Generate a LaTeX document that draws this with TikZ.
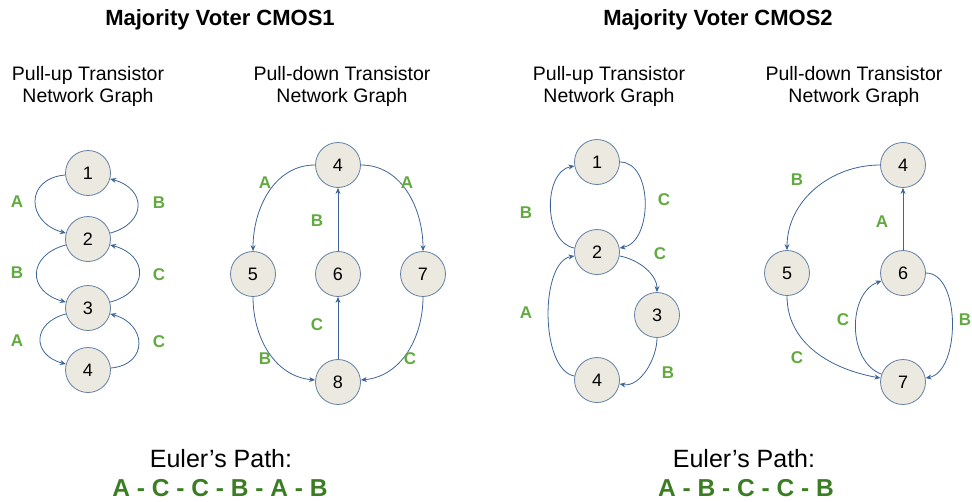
\documentclass[tikz,border=0pt]{standalone}
\usepackage{fontspec}
\setmainfont{Liberation Sans}
\usetikzlibrary{arrows.meta}
\definecolor{nodefill}{RGB}{236,234,224}
\definecolor{nodeborder}{RGB}{98,128,165}
\definecolor{edgeblue}{RGB}{62,100,150}
\definecolor{labgreen}{RGB}{98,170,64}
\definecolor{pathgreen}{RGB}{58,125,34}
\tikzset{
  vert/.style={circle, draw=nodeborder, fill=nodefill, line width=0.8pt,
    minimum size=45pt, inner sep=0pt, font=\fontsize{18}{18}\selectfont},
  conn/.style={draw=edgeblue, line width=0.8pt, -{Stealth[length=6pt,width=5pt]}},
  lab/.style={text=labgreen, font=\bfseries\fontsize{17}{17}\selectfont},
  title/.style={font=\bfseries\fontsize{22}{22}\selectfont},
  sub/.style={align=center, font=\fontsize{19.5}{22}\selectfont},
  euler/.style={anchor=base, inner sep=0pt, font=\fontsize{25}{25}\selectfont},
  eulerpath/.style={anchor=base, inner sep=0pt, text=pathgreen, font=\bfseries\fontsize{24.5}{24.5}\selectfont}
}
\begin{document}
\begin{tikzpicture}[x=1pt,y=1pt]
\useasboundingbox (0,0) rectangle (972,-501);
% titles
\node[title] (t1) at (220,-20) {Majority Voter CMOS1};
\node[title] (t2) at (718,-20) {Majority Voter CMOS2};
\node[sub] (s1) at (88,-86) {Pull-up Transistor\\Network Graph};
\node[sub] (s2) at (342,-86) {Pull-down Transistor\\Network Graph};
\node[sub] (s3) at (609,-86) {Pull-up Transistor\\Network Graph};
\node[sub] (s4) at (854,-86) {Pull-down Transistor\\Network Graph};
% Euler paths
\node[euler] (e1) at (221,-467) {Euler’s Path:};
\node[eulerpath] (p1) at (220,-496) {A - C - C - B - A - B};
\node[euler] (e2) at (744,-467) {Euler’s Path:};
\node[eulerpath] (p2) at (746,-496) {A - B - C - C - B};

% Graph 1
\node[vert] (a1) at (88,-173) {1};
\node[vert] (a2) at (88,-239) {2};
\node[vert] (a3) at (88,-308) {3};
\node[vert] (a4) at (88,-370) {4};
\draw[conn] (a1) to[out=185,in=165,looseness=1.8] (a2);
\draw[conn] (a2) to[out=15,in=-15,looseness=1.8] (a1);
\draw[conn] (a2) to[out=195,in=165,looseness=1.8] (a3);
\draw[conn] (a3) to[out=15,in=-15,looseness=1.8] (a2);
\draw[conn] (a3) to[out=195,in=165,looseness=1.8] (a4);
\draw[conn] (a4) to[out=5,in=-15,looseness=1.8] (a3);
\node[lab] (la1) at (17,-202) {A};
\node[lab] (la2) at (159,-203) {B};
\node[lab] (la3) at (17,-273) {B};
\node[lab] (la4) at (159,-275) {C};
\node[lab] (la5) at (17,-341) {A};
\node[lab] (la6) at (159,-342) {C};

% Graph 2
\node[vert] (b4) at (338,-165) {4};
\node[vert] (b5) at (253,-274) {5};
\node[vert] (b6) at (338,-274) {6};
\node[vert] (b7) at (423,-274) {7};
\node[vert] (b8) at (338,-382) {8};
\draw[conn] (b4) to[out=180,in=90] (b5);
\draw[conn] (b4) to[out=0,in=90] (b7);
\draw[conn] (b6) -- (b4);
\draw[conn] (b8) -- (b6);
\draw[conn] (b5) to[out=270,in=175] (b8);
\draw[conn] (b7) to[out=270,in=5] (b8);
\node[lab] (lb1) at (265,-183) {A};
\node[lab] (lb2) at (407,-183) {A};
\node[lab] (lb3) at (317,-221) {B};
\node[lab] (lb4) at (317,-325) {C};
\node[lab] (lb5) at (265,-359) {B};
\node[lab] (lb6) at (410,-359) {C};

% Graph 3
\node[vert] (c1) at (597,-162) {1};
\node[vert] (c2) at (597,-252) {2};
\node[vert] (c3) at (657,-315) {3};
\node[vert] (c4) at (597,-380) {4};
\draw[conn] (c2) to[out=170,in=190] (c1);
\draw[conn] (c1) to[out=0,in=10] (c2);
\draw[conn] (c2) to[out=-10,in=90,looseness=0.9] (c3);
\draw[conn] (c3) to[out=270,in=-10,looseness=0.9] (c4);
\draw[conn] (c4) to[out=170,in=190,looseness=0.75] (c2);
\node[lab] (lc1) at (526,-213) {B};
\node[lab] (lc2) at (664,-200) {C};
\node[lab] (lc3) at (660,-254) {C};
\node[lab] (lc4) at (526,-313) {A};
\node[lab] (lc5) at (668,-373) {B};

% Graph 4
\node[vert] (d4) at (903,-165) {4};
\node[vert] (d5) at (787,-273) {5};
\node[vert] (d6) at (903,-273) {6};
\node[vert] (d7) at (903,-382) {7};
\draw[conn] (d4) to[out=180,in=90] (d5);
\draw[conn] (d6) -- (d4);
\draw[conn] (d5) to[out=270,in=170] (d7);
\draw[conn] (d7) to[out=160,in=200] (d6);
\draw[conn] (d6) to[out=0,in=10,looseness=0.86] (d7);
\node[lab] (ld1) at (797,-180) {B};
\node[lab] (ld2) at (882,-222) {A};
\node[lab] (ld3) at (843,-320) {C};
\node[lab] (ld4) at (965,-320) {B};
\node[lab] (ld5) at (797,-358) {C};
\end{tikzpicture}
\end{document}
